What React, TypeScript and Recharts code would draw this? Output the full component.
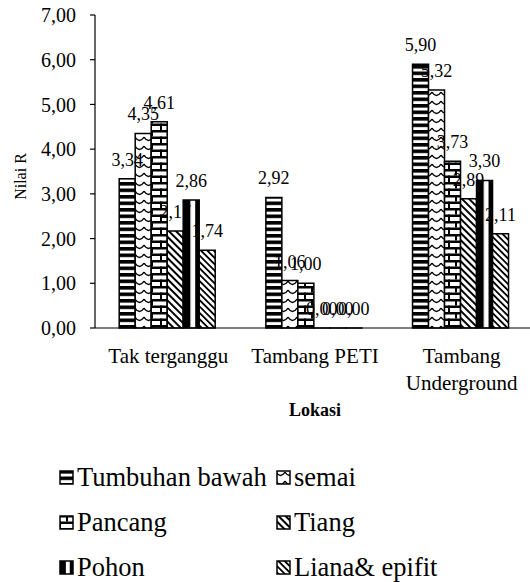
import React from 'react';
import { BarChart, Bar, XAxis, YAxis, Legend, LabelList, Text } from 'recharts';

const locations = ['Tak terganggu', 'Tambang PETI', 'Tambang Underground'];
const tumbuhanBawah = [3.34, 2.92, 5.9];
const semai = [4.35, 1.06, 5.32];
const pancang = [4.61, 1.0, 3.73];
const tiang = [2.17, 0, 2.89];
const pohon = [2.86, 0, 3.3];
const lianaEpifit = [1.74, 0, 2.11];
const yTicks = [0, 1, 2, 3, 4, 5, 6, 7];

const series = [
  { key: 'tumbuhan', name: 'Tumbuhan bawah', values: tumbuhanBawah, pattern: 'pat-tumbuhan' },
  { key: 'semai', name: 'semai', values: semai, pattern: 'pat-semai' },
  { key: 'pancang', name: 'Pancang', values: pancang, pattern: 'pat-pancang' },
  { key: 'tiang', name: 'Tiang', values: tiang, pattern: 'pat-tiang' },
  { key: 'pohon', name: 'Pohon', values: pohon, pattern: 'pat-pohon' },
  { key: 'liana', name: 'Liana& epifit', values: lianaEpifit, pattern: 'pat-liana' },
];

const data = locations.map((loc, i) => {
  const row: Record<string, string | number> = { loc };
  series.forEach((s) => { row[s.key] = s.values[i]; });
  return row;
});

const FONT = "'Liberation Serif', Tinos, 'Times New Roman', 'DejaVu Serif', 'Noto Serif', serif";
const fmt = (v: any) => Number(v).toFixed(2).replace('.', ',');

const CategoryTick = ({ x, y, payload }: any) => (
  <Text
    x={x}
    y={y + 20}
    width={140}
    textAnchor="middle"
    verticalAnchor="start"
    lineHeight="27px"
    fontSize={21}
    style={{ fontFamily: FONT }}
    fill="#000"
  >
    {payload.value}
  </Text>
);

const YLabel = ({ viewBox }: any) => {
  const cx = viewBox.x + 20;
  const cy = viewBox.y + viewBox.height / 2 + 5;
  return (
    <text
      x={cx}
      y={cy}
      transform={`rotate(-90 ${cx} ${cy})`}
      textAnchor="middle"
      dominantBaseline="central"
      fontSize={16}
      style={{ fontFamily: FONT }}
      fill="#000"
    >
      Nilai R
    </text>
  );
};

// legend: 2 columns, row-major like the excel one
const LegendBox = () => (
  <div style={{ position: 'relative', width: 530, height: 127, fontFamily: FONT, fontSize: 26.5, color: '#000' }}>
    {series.map((s, i) => {
      const col = i % 2;
      const row = Math.floor(i / 2);
      return (
        <div
          key={s.key}
          style={{
            position: 'absolute',
            left: col === 0 ? 59 : 276,
            top: 22 + row * 45 - 15,
            height: 30,
            lineHeight: '30px',
            display: 'flex',
            alignItems: 'center',
            whiteSpace: 'nowrap',
          }}
        >
          <svg width={15} height={15} style={{ marginRight: 3 }}>
            <rect x={1} y={1} width={13} height={13} fill={`url(#${s.pattern})`} stroke="#000" strokeWidth={1.5} />
          </svg>
          <span>{s.name}</span>
        </div>
      );
    })}
  </div>
);

export default function App() {
  return (
    <div style={{ position: 'absolute', left: 0, top: 0, width: 530, height: 582, overflow: 'hidden', background: '#fff', fontFamily: FONT }}>
      <BarChart
        width={540}
        height={582}
        data={data}
        margin={{ top: 15, right: 5, bottom: 159, left: 0 }}
        barCategoryGap="16.5%"
        barGap={0}
        style={{ fontFamily: FONT }}
      >
        <defs>
          <pattern id="pat-tumbuhan" width={8} height={6.5} patternUnits="userSpaceOnUse">
            <rect width={8} height={6.5} fill="#fff" />
            <rect width={8} height={3.6} fill="#000" />
          </pattern>
          <pattern id="pat-semai" width={9} height={9} patternUnits="userSpaceOnUse">
            <rect width={9} height={9} fill="#fff" />
            <path d="M0,2 Q2.2,5.5 4.5,5.5 Q6.8,5.5 9,2" stroke="#000" strokeWidth={1.4} fill="none" />
          </pattern>
          <pattern id="pat-pancang" width={16} height={13} patternUnits="userSpaceOnUse">
            <rect width={16} height={13} fill="#fff" />
            <rect y={0} width={16} height={2.5} fill="#000" />
            <rect y={6.5} width={16} height={2.5} fill="#000" />
            <rect x={7} y={0} width={2} height={6.5} fill="#000" />
            <rect x={0} y={6.5} width={2} height={6.5} fill="#000" />
          </pattern>
          <pattern id="pat-tiang" width={5} height={5} patternUnits="userSpaceOnUse" patternTransform="rotate(-45)">
            <rect width={5} height={5} fill="#fff" />
            <rect width={2} height={5} fill="#000" />
          </pattern>
          <pattern id="pat-pohon" width={1} height={1} patternUnits="objectBoundingBox" patternContentUnits="objectBoundingBox">
            <rect width={1} height={1} fill="#fff" />
            <rect x={0} width={0.45} height={1} fill="#000" />
            <rect x={0.75} width={0.25} height={1} fill="#000" />
          </pattern>
          <pattern id="pat-liana" width={4.5} height={4.5} patternUnits="userSpaceOnUse" patternTransform="rotate(-45)">
            <rect width={4.5} height={4.5} fill="#fff" />
            <rect width={1.8} height={4.5} fill="#000" />
          </pattern>
        </defs>
        <XAxis
          dataKey="loc"
          height={95}
          tickLine={false}
          tickSize={0}
          tickMargin={0}
          interval={0}
          axisLine={{ stroke: '#000', strokeWidth: 1.2 }}
          tick={<CategoryTick />}
          label={{ value: 'Lokasi', position: 'insideBottom', offset: 7, fontSize: 18, fontWeight: 'bold', fill: '#000', style: { fontFamily: FONT } }}
        />
        <YAxis
          width={95}
          domain={[0, 7]}
          ticks={yTicks}
          tickFormatter={fmt}
          tickSize={5}
          tickMargin={14}
          axisLine={{ stroke: '#000', strokeWidth: 1.2 }}
          tickLine={{ stroke: '#000', strokeWidth: 1.2 }}
          tick={{ fontSize: 20, fill: '#000', style: { fontFamily: FONT } }}
          label={{ content: <YLabel /> }}
        />
        <Legend
          verticalAlign="middle"
          align="center"
          layout="horizontal"
          wrapperStyle={{ top: 455, left: 0, width: 530, height: 127 }}
          content={<LegendBox />}
        />
        {series.map((s) => (
          <Bar
            key={s.key}
            dataKey={s.key}
            name={s.name}
            fill={`url(#${s.pattern})`}
            stroke="#000"
            strokeWidth={1.5}
            minPointSize={0.01}
            isAnimationActive={false}
          >
            <LabelList
              dataKey={s.key}
              position="top"
              offset={13}
              formatter={fmt}
              fontSize={18}
              style={{ fontFamily: FONT }}
              fill="#000"
            />
          </Bar>
        ))}
      </BarChart>
    </div>
  );
}
